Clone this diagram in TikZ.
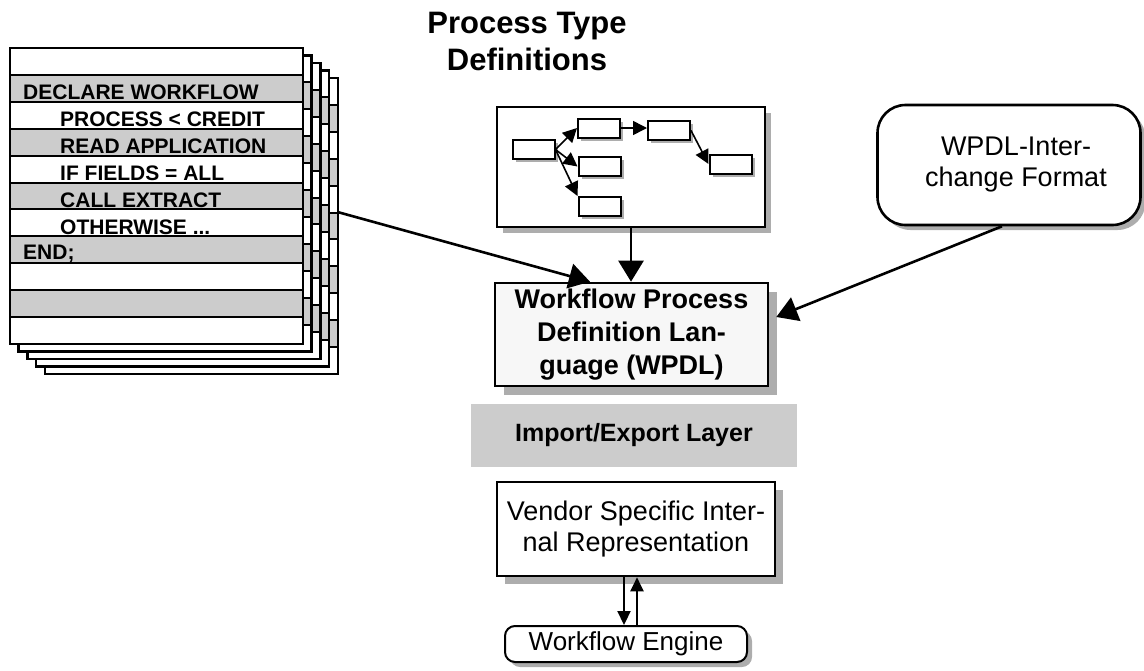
\documentclass[tikz,border=0pt]{standalone}
\usepackage{fontspec}
\setmainfont{Liberation Sans}
\usetikzlibrary{arrows.meta,shadows,calc}

\begin{document}
\begin{tikzpicture}[x=1pt,y=-1pt,
  bigarrow/.style={line width=2.6pt,-{Triangle[length=21pt,width=25pt]}},
  midarrow/.style={line width=2.2pt,-{Triangle[length=14pt,width=13pt]}},
  smallarrow/.style={line width=1.6pt,-{Triangle[length=14pt,width=14pt]}},
  box/.style={draw,line width=2.6pt,fill=white,inner sep=0pt,align=center},
  shade/.style={drop shadow={shadow xshift=#1,shadow yshift=-#1,fill=black!32,opacity=1}},
  tiny/.style={draw,line width=2pt,fill=white,minimum width=42pt,minimum height=19pt,inner sep=0pt,shade=3pt},
  codeline/.style={anchor=base west,inner sep=0pt,font=\fontsize{21}{21}\selectfont\bfseries},
  plain/.style={font=\fontsize{27}{31}\selectfont},
  heavy/.style={font=\fontsize{27}{33}\selectfont\bfseries},
]
\useasboundingbox (0,0) rectangle (1144,670);

% stack of listing sheets, back to front
\foreach \k in {4,3,2,1,0}{
  \begin{scope}[shift={(8.7*\k,7.5*\k)}]
    \fill[white] (10,48) rectangle (303,344);
    \foreach \r in {1,3,5,7,9}
      \fill[black!20] (10,48+26.9*\r) rectangle (303,48+26.9*\r+26.9);
    \foreach \r in {1,...,10}
      \draw[line width=2pt] (10,48+26.9*\r) -- (303,48+26.9*\r);
    \draw[line width=2.6pt] (10,48) rectangle (303,344);
  \end{scope}
}
\coordinate (listout) at (337.5,212);

\node[codeline] (l1) at (23,99)  {DECLARE WORKFLOW};
\node[codeline] (l2) at (60,126) {PROCESS < CREDIT};
\node[codeline] (l3) at (60,153) {READ APPLICATION};
\node[codeline] (l4) at (60,180) {IF FIELDS = ALL};
\node[codeline] (l5) at (60,207) {CALL EXTRACT};
\node[codeline] (l6) at (60,234) {OTHERWISE ...};
\node[codeline] (l7) at (23,259) {END;};

% title
\node[font=\fontsize{31}{37}\selectfont\bfseries,align=center,inner sep=0pt] (title) at (527,41) {Process Type\\Definitions};

% process type diagram
\node[box,minimum width=268pt,minimum height=120pt,shade=6pt] (proc) at (631,167) {};
\node[tiny] (pa) at (533.5,149.5) {};
\node[tiny] (pb) at (599,128) {};
\node[tiny] (pc) at (599.5,166.5) {};
\node[tiny] (pd) at (599.5,206.5) {};
\node[tiny] (pe) at (669,130.5) {};
\node[tiny] (pf) at (730.5,164) {};
\draw[smallarrow] (pa.east) -- (pb.west);
\draw[smallarrow] (pa.east) -- (pc.west);
\draw[smallarrow] (pa.east) -- (pd.north west);
\draw[smallarrow] (pb.east) -- (pe.west |- pb.east);
\draw[smallarrow] (pe.east) -- (pf.west);

% interchange format
\node[box,rounded corners=28pt,minimum width=263pt,minimum height=120pt,shade=5pt,plain] (inter) at (1009,165) {\hspace*{14pt}WPDL-Inter-\\\hspace*{14pt}change Format};

% WPDL
\node[box,fill=black!3,minimum width=273pt,minimum height=103pt,shade=9pt,heavy] (wpdl) at (631.5,334.5) {Workflow Process\\Definition Lan-\\guage (WPDL)};

% import/export layer
\node[fill=black!20,minimum width=326pt,minimum height=63pt,inner sep=0pt,font=\fontsize{25}{30}\selectfont\bfseries] (layer) at (634,435.5) {Import/Export Layer};

% vendor representation
\node[box,minimum width=278pt,minimum height=94pt,shade=8pt,plain] (vendor) at (636,529) {Vendor Specific Inter-\\nal Representation};

% engine
\node[box,line width=2pt,rounded corners=10pt,minimum width=242pt,minimum height=36pt,shade=5pt,font=\fontsize{26}{31}\selectfont] (engine) at (626,644) {Workflow Engine};

% connectors
\draw[bigarrow] (proc.south) -- (proc.south |- wpdl.north);
\draw[bigarrow] (listout) -- ([xshift=-41.5pt]wpdl.north);
\draw[bigarrow] ([xshift=-7pt]inter.south) -- ([xshift=7pt,yshift=17.5pt]wpdl.east);
\draw[midarrow] ([xshift=-12pt]vendor.south) -- ([xshift=-12pt]vendor.south |- engine.north);
\draw[midarrow] ([xshift=1pt]vendor.south |- engine.north) -- ([xshift=1pt]vendor.south);
\end{tikzpicture}
\end{document}
